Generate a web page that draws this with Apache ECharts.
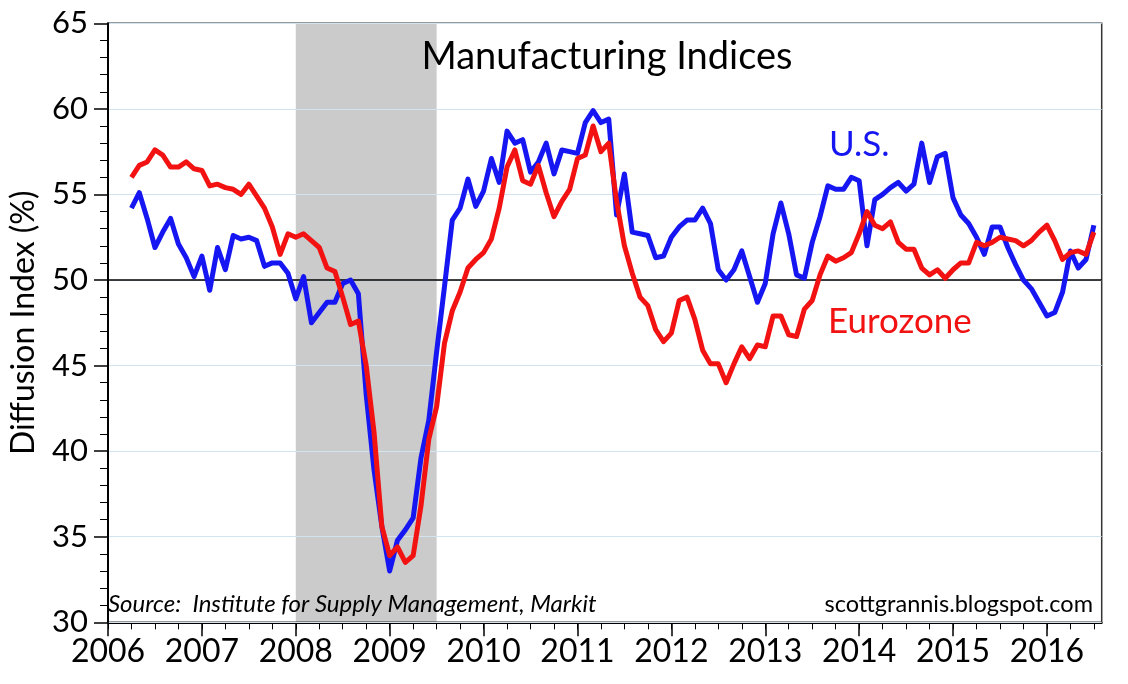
<!DOCTYPE html>
<html><head><meta charset="utf-8">
<script src="https://cdn.jsdelivr.net/npm/echarts@6/dist/echarts.min.js"></script>
<style>html,body{margin:0;padding:0;background:#fff}#c{width:1128px;height:684px}</style>
</head><body><div id="c"></div>
<script>
// First data month; each monthly value is plotted at the end of its month
const firstMonth = '2006-03';
const usISM = [
 54.2,55.1,53.6,51.9,52.8,53.6,52.1,51.3,50.2,51.4,
 49.4,51.9,50.6,52.6,52.4,52.5,52.3,50.8,51.0,51.0,
 50.4,48.9,50.2,47.5,48.1,48.7,48.7,49.8,50.0,49.2,
 43.3,38.9,35.6,33.0,34.8,35.4,36.1,39.6,41.8,45.8,
 49.6,53.5,54.2,55.9,54.3,55.2,57.1,55.7,58.7,58.0,
 58.2,56.3,56.9,58.0,56.2,57.6,57.5,57.4,59.2,59.9,
 59.2,59.4,53.8,56.2,52.8,52.7,52.6,51.3,51.4,52.5,
 53.1,53.5,53.5,54.2,53.3,50.6,50.0,50.6,51.7,50.2,
 48.7,49.8,52.7,54.5,52.7,50.3,50.1,52.2,53.7,55.5,
 55.3,55.3,56.0,55.8,52.0,54.7,55.0,55.4,55.7,55.2,
 55.6,58.0,55.7,57.2,57.4,54.8,53.8,53.3,52.5,51.5,
 53.1,53.1,51.9,50.9,50.0,49.5,48.7,47.9,48.1,49.3,
 51.7,50.7,51.2,53.2
];
const eurozonePMI = [
 56.0,56.7,56.9,57.6,57.3,56.6,56.6,56.9,56.5,56.4,
 55.5,55.6,55.4,55.3,55.0,55.6,54.9,54.2,53.1,51.5,
 52.7,52.5,52.7,52.3,51.9,50.7,50.5,49.0,47.4,47.6,
 45.0,41.1,35.6,33.9,34.4,33.5,33.9,36.8,40.7,42.6,
 46.3,48.2,49.3,50.7,51.2,51.6,52.4,54.2,56.6,57.6,
 55.8,55.6,56.7,55.1,53.7,54.6,55.3,57.1,57.3,59.0,
 57.5,58.0,54.6,52.0,50.4,49.0,48.5,47.1,46.4,46.9,
 48.8,49.0,47.7,45.9,45.1,45.1,44.0,45.1,46.1,45.4,
 46.2,46.1,47.9,47.9,46.8,46.7,48.3,48.8,50.3,51.4,
 51.1,51.3,51.6,52.7,54.0,53.2,53.0,53.4,52.2,51.8,
 51.8,50.7,50.3,50.6,50.1,50.6,51.0,51.0,52.2,52.0,
 52.2,52.5,52.4,52.3,52.0,52.3,52.8,53.2,52.3,51.2,
 51.6,51.7,51.5,52.8
];
const yearLabels = [2006,2007,2008,2009,2010,2011,2012,2013,2014,2015,2016];
const quarterTicks = [];
for (let y = 2006; y <= 2016.5; y += 0.25) quarterTicks.push(y);
const recession = [2008.0, 2009.5];
const xMin = 2006, xMax = 2016 + 7/12;
const yMin = 30, yMax = 65, yStep = 5;
const referenceLevel = 50;
const titleText = 'Manufacturing Indices';
const usName = 'U.S.', euName = 'Eurozone';
const sourceText = 'Source:  Institute for Supply Management, Markit';
const blogText = 'scottgrannis.blogspot.com';
const yName = 'Diffusion Index (%)';

const [fy, fm] = firstMonth.split('-').map(Number);
const monthEnd = i => fy + (fm + i) / 12;
const toPairs = arr => arr.map((v, i) => [monthEnd(i), v]);

const FONT = 'Lato';
const BLUE = '#1616f2', RED = '#f21212';

const chart = echarts.init(document.getElementById('c'), null, {renderer: 'canvas'});
chart.setOption({
  animation: false,
  backgroundColor: '#fff',
  textStyle: {fontFamily: FONT},
  grid: {left: 101.7, right: 26.3, top: 23.3, bottom: 61.7, show: true,
         borderColor: '#333', borderWidth: 1.5, backgroundColor: 'transparent'},
  xAxis: [{
    type: 'value', min: xMin, max: xMax, position: 'bottom',
    axisLine: {show: true, onZero: false, lineStyle: {color: '#000', width: 2}},
    axisTick: {show: true, length: 14, lineStyle: {color: '#000', width: 1.5}, customValues: yearLabels},
    axisLabel: {show: true, customValues: yearLabels, margin: 13, color: '#000', fontSize: 32, fontFamily: FONT,
                formatter: v => String(Math.round(v))},
    splitLine: {show: false}
  }, {
    type: 'value', min: xMin, max: xMax, position: 'bottom',
    axisLine: {show: false, onZero: false},
    axisTick: {show: true, length: 7, lineStyle: {color: '#000', width: 1}, customValues: quarterTicks},
    axisLabel: {show: false},
    splitLine: {show: false}
  }],
  yAxis: {
    type: 'value', min: yMin, max: yMax, interval: yStep, z: 3,
    name: yName, nameLocation: 'middle', nameRotate: 90, nameGap: 68,
    nameTextStyle: {color: '#000', fontSize: 32, fontFamily: FONT},
    axisLine: {show: true, onZero: false, lineStyle: {color: '#000', width: 2}},
    axisTick: {show: true, length: 14, lineStyle: {color: '#000', width: 1.5}},
    minorTick: {show: true, splitNumber: 5, length: 8, lineStyle: {color: '#000', width: 1}},
    axisLabel: {margin: 20, color: '#000', fontSize: 31, fontFamily: FONT},
    splitLine: {show: true, lineStyle: {color: '#d3e4ee', width: 1.2}},
    minorSplitLine: {show: false}
  },
  series: [{
    type: 'line', name: 'recession', data: [], z: -1, silent: true,
    markArea: {silent: true, z: -1, itemStyle: {color: '#cbcbcb'}, label: {show: false},
      data: [[{xAxis: recession[0]}, {xAxis: recession[1]}]]}
  }, {
    type: 'line', name: 'ref', data: [], z: 4, silent: true,
    markLine: {silent: true, z: 4, symbol: 'none', label: {show: false},
      lineStyle: {color: '#000', width: 1.5, type: 'solid'},
      data: [{yAxis: referenceLevel}]}
  }, {
    type: 'line', name: usName, data: toPairs(usISM), showSymbol: false, z: 5,
    lineStyle: {color: BLUE, width: 5, join: 'round'}, itemStyle: {color: BLUE}
  }, {
    type: 'line', name: euName, data: toPairs(eurozonePMI), showSymbol: false, z: 6,
    lineStyle: {color: RED, width: 5, join: 'round'}, itemStyle: {color: RED}
  }],
  graphic: [
    {type: 'text', z: 50, x: 607, y: 57, style: {text: titleText, fontFamily: FONT, fontSize: 38, fill: '#000', align: 'center', verticalAlign: 'middle'}},
    {type: 'text', z: 50, x: 829, y: 145, style: {text: usName, fontFamily: FONT, fontSize: 35, fill: BLUE, align: 'left', verticalAlign: 'middle'}},
    {type: 'text', z: 50, x: 828, y: 322, style: {text: euName, fontFamily: FONT, fontSize: 35, fill: RED, align: 'left', verticalAlign: 'middle'}},
    {type: 'text', z: 50, x: 108, y: 604, style: {text: sourceText, fontFamily: FONT, fontSize: 24, fontStyle: 'italic', fill: '#000', align: 'left', verticalAlign: 'middle'}},
    {type: 'text', z: 50, x: 1093, y: 604, style: {text: blogText, fontFamily: FONT, fontSize: 23.5, fill: '#000', align: 'right', verticalAlign: 'middle'}}
  ]
});
</script></body></html>
